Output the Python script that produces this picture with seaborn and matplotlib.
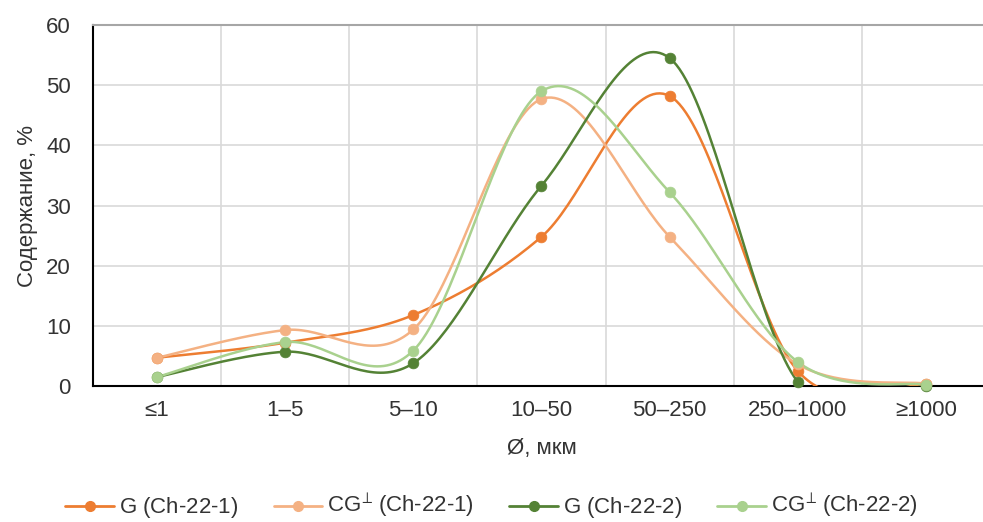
import numpy as np
import pandas as pd
import matplotlib.pyplot as plt
import seaborn as sns
from matplotlib.lines import Line2D

# data
categories = ["≤1", "1–5", "5–10", "10–50", "50–250", "250–1000", "≥1000"]
g_ch1 = [4.7, 7.2, 11.8, 24.8, 48.2, 2.5, 0.3]
cg_ch1 = [4.7, 9.3, 9.4, 47.7, 24.8, 3.6, 0.4]
g_ch2 = [1.5, 5.7, 3.8, 33.3, 54.5, 0.7, 0.0]
cg_ch2 = [1.5, 7.3, 5.9, 49.0, 32.2, 4.0, 0.2]

names = [r"G (Ch-22-1)$\,$", r"CG$^{\!\perp}\!$ (Ch-22-1)",
         r"G (Ch-22-2)$\,$", r"CG$^{\!\perp}\!$ (Ch-22-2)"]
colors = ["#ED7D31", "#F4B183", "#548235", "#A9D18E"]


def smooth(y, n=40):
    # Excel-like smoothed line (Catmull-Rom bezier)
    x = np.arange(len(y), dtype=float)
    y = np.asarray(y, dtype=float)
    px = np.concatenate([[x[0]], x, [x[-1]]])
    py = np.concatenate([[y[0]], y, [y[-1]]])
    xs, ys = [], []
    t = np.linspace(0, 1, n)
    for i in range(1, len(px) - 2):
        x0, y0 = px[i], py[i]
        x3, y3 = px[i + 1], py[i + 1]
        x1 = x0 + (px[i + 1] - px[i - 1]) / 6
        y1 = y0 + (py[i + 1] - py[i - 1]) / 6
        x2 = x3 - (px[i + 2] - px[i]) / 6
        y2 = y3 - (py[i + 2] - py[i]) / 6
        b = [(1 - t) ** 3, 3 * (1 - t) ** 2 * t, 3 * (1 - t) * t ** 2, t ** 3]
        xs.append(b[0] * x0 + b[1] * x1 + b[2] * x2 + b[3] * x3)
        ys.append(b[0] * y0 + b[1] * y1 + b[2] * y2 + b[3] * y3)
    return np.concatenate(xs), np.concatenate(ys)


sns.set_theme(style="white")
plt.rcParams['font.family'] = ['Liberation Sans', 'DejaVu Sans']
plt.rcParams['mathtext.fontset'] = 'dejavusans'

fig = plt.figure(figsize=(9.83, 5.22), dpi=100)
ax = fig.add_axes([0.0946, 0.2605, 0.9125, 0.6916])

text_color = "#333333"
for vals, name, c in zip([g_ch1, cg_ch1, g_ch2, cg_ch2], names, colors):
    sx, sy = smooth(vals)
    curve = pd.DataFrame({"x": sx, "y": sy})
    sns.lineplot(data=curve, x="x", y="y", sort=False, color=c, linewidth=1.8, ax=ax, zorder=3)
    pts = pd.DataFrame({"x": np.arange(len(vals)), "y": vals})
    sns.scatterplot(data=pts, x="x", y="y", color=c, s=60, edgecolor=c, linewidth=0.5,
                    ax=ax, zorder=4, clip_on=False)

ax.set_xlim(-0.5, 6.5)
ax.set_ylim(0, 60)
ax.set_yticks(np.arange(0, 61, 10))
ax.set_xticks(np.arange(-0.5, 7, 1))
ax.set_xticklabels([])
ax.set_xticks(np.arange(7), minor=True)
ax.set_xticklabels(categories, minor=True)
ax.tick_params(axis="x", which="minor", length=0, pad=10, labelsize=16, colors=text_color)
ax.tick_params(axis="x", which="major", length=6, width=1.3, color="black", direction="out")
ax.tick_params(axis="y", length=6, width=1.3, color="black", labelsize=16, labelcolor=text_color, pad=10)
ax.grid(True, axis="both", which="major", color="#d9d9d9", linewidth=1.2)
ax.set_axisbelow(True)

for s in ["left", "bottom"]:
    ax.spines[s].set_color("black")
    ax.spines[s].set_linewidth(1.5)
ax.spines["top"].set_color("#a6a6a6")
ax.spines["top"].set_linewidth(1.5)
ax.spines["right"].set_visible(False)

ax.set_xlabel("Ø, мкм", fontsize=16, color=text_color, labelpad=12)
ax.set_ylabel("Содержание, %", fontsize=16, color=text_color, labelpad=6)

handles = [Line2D([], [], color=c, marker="o", markersize=7, linewidth=2) for c in colors]
fig.legend(handles, names, loc="center", bbox_to_anchor=(0.5, 0.03), ncol=4, frameon=False,
           fontsize=16, handlelength=2.2, handletextpad=0.2, columnspacing=1.6,
           labelcolor=text_color)

fig.savefig("out.png", dpi=100)
